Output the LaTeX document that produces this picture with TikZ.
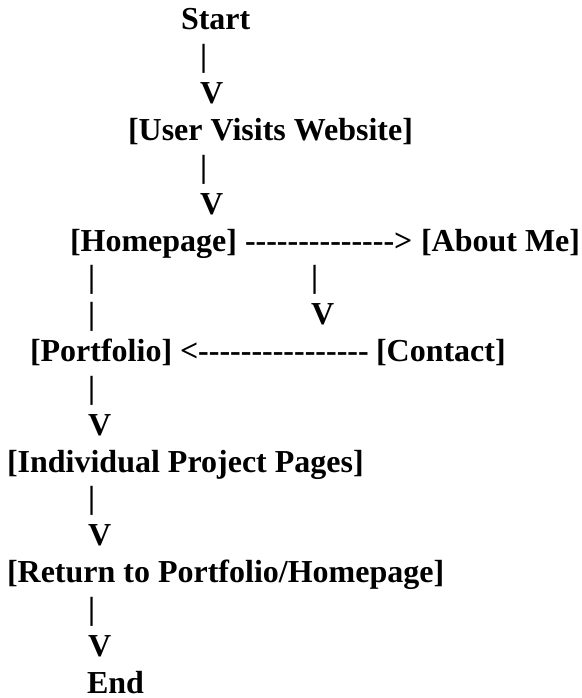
\documentclass[tikz,border=0pt]{standalone}
\usepackage{fontspec}
\setmainfont{Liberation Serif}
\begin{document}
\begin{tikzpicture}[x=1pt, y=-1pt, every node/.style={anchor=base west, inner sep=0pt, outer sep=0pt, font=\fontsize{32}{36}\selectfont\bfseries}]
\useasboundingbox (0,0) rectangle (581,698);
% Top column
\node (start) at (181,30) {Start};
\node (bar1) at (200,66.8) {|};
\node (v1) at (200,103.7) {V};
\node (visit) at (128,140.5) {[User Visits Website]};
\node (bar2) at (200,177.3) {|};
\node (v2) at (200,214.2) {V};
% Homepage row
\node (home) at (70,251) {[Homepage]};
\node (right) at (245,251) {-{}-{}-{}-{}-{}-{}-{}-{}-{}-{}-{}-{}-{}->};
\node (about) at (421,251) {[About Me]};
\node (bar3) at (88,287.8) {|};
\node (bar4) at (88,324.6) {|};
\node (bar5) at (311,287.8) {|};
\node (v3) at (311,324.6) {V};
% Portfolio row
\node (port) at (30,361.5) {[Portfolio]};
\node (left) at (180,361.5) {<-{}-{}-{}-{}-{}-{}-{}-{}-{}-{}-{}-{}-{}-{}-{}-};
\node (contact) at (376,361.5) {[Contact]};
% Lower column
\node (bar6) at (88,398.3) {|};
\node (v4) at (88,435.1) {V};
\node (project) at (7,472) {[Individual Project Pages]};
\node (bar7) at (88,508.8) {|};
\node (v5) at (88,545.6) {V};
\node (return) at (7,582.5) {[Return to Portfolio/Homepage]};
\node (bar8) at (88,619.3) {|};
\node (v6) at (88,656.1) {V};
\node (end) at (87,693) {End};
\end{tikzpicture}
\end{document}
